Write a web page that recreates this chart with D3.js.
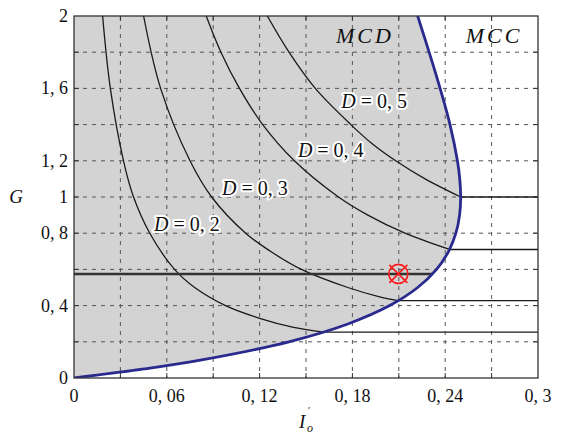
<!DOCTYPE html>
<html>
<head>
<meta charset="utf-8">
<script src="https://cdn.jsdelivr.net/npm/d3@7"></script>
<style>
  body { margin: 0; background: #fff; }
  svg { display: block; }
  svg text { font-family: "Liberation Serif", "DejaVu Serif", "Times New Roman", serif; }
  .grid line { stroke: #555; stroke-width: 1; stroke-dasharray: 4,5; }
  .tick-lbl { font-size: 18px; fill: #111; }
  .dlbl { font-size: 20px; fill: #111; stroke: #fff; stroke-width: 4px; paint-order: stroke; stroke-linejoin: round; }
</style>
</head>
<body>
<svg id="chart" width="565" height="434"></svg>
<script>
// ── Data (I'_o, G) ──────────────────────────────────────────────────────────
const xTicks = [0, 0.06, 0.12, 0.18, 0.24, 0.3];
const xTickLabels = ["0", "0, 06", "0, 12", "0, 18", "0, 24", "0, 3"];
const yTicks = [0, 0.4, 0.8, 1, 1.2, 1.6, 2];
const yTickLabels = ["0", "0, 4", "0, 8", "1", "1, 2", "1, 6", "2"];
const xGrid = [0.03, 0.06, 0.09, 0.12, 0.15, 0.18, 0.21, 0.24, 0.27];
const yGrid = [0.2, 0.4, 0.6, 0.8, 1.0, 1.2, 1.4, 1.6, 1.8];

// MCD / MCC boundary
const boundary = [
  [0, 0], [0.0454, 0.05], [0.0826, 0.1], [0.1389, 0.2], [0.1775, 0.3],
  [0.2041, 0.4], [0.2222, 0.5], [0.2344, 0.6], [0.2422, 0.7], [0.2469, 0.8],
  [0.2493, 0.9], [0.25, 1.0], [0.2494, 1.1], [0.2479, 1.2], [0.2431, 1.4],
  [0.2367, 1.6], [0.2296, 1.8], [0.2222, 2.0]
];

// MCD curves for each duty cycle
const dcmD02 = [[0.0185, 2], [0.0235, 1.6], [0.032, 1.2], [0.0385, 1.0], [0.049, 0.8],
  [0.065, 0.6], [0.078, 0.5], [0.098, 0.4], [0.12, 0.33], [0.142, 0.28], [0.1615, 0.254]];
const dcmD03 = [[0.045, 2], [0.056, 1.6], [0.075, 1.2], [0.089, 1.0], [0.111, 0.8],
  [0.127, 0.7], [0.147, 0.6], [0.177, 0.5], [0.197, 0.45], [0.2097, 0.427]];
const dcmD04 = [[0.0855, 2], [0.095, 1.8], [0.107, 1.6], [0.122, 1.4], [0.1425, 1.2],
  [0.171, 1.0], [0.19, 0.9], [0.214, 0.8], [0.2428, 0.71]];
const dcmD05 = [[0.125, 2], [0.139, 1.8], [0.156, 1.6], [0.179, 1.4], [0.192, 1.3],
  [0.208, 1.2], [0.227, 1.1], [0.25, 1.0]];
const dcmCurves = [dcmD02, dcmD03, dcmD04, dcmD05];

// MCC: G constant from the boundary to the right edge
const ccmG = [0.254, 0.427, 0.71, 1.0];
const ccmStart = [0.1615, 0.2097, 0.2428, 0.25];

// operating line and point
const opLine = [[0, 0.575], [0.2318, 0.575]];
const opPoint = [0.2097, 0.575];

const dLabels = ["0, 2", "0, 3", "0, 4", "0, 5"];
const dLabelPos = [[0.073, 0.81], [0.117, 1.01], [0.166, 1.22], [0.194, 1.49]];

// ── Setup ────────────────────────────────────────────────────────────────────
const svg = d3.select('#chart');
const L = 74, R = 538, T = 16, B = 378;
const x = d3.scaleLinear().domain([0, 0.3]).range([L, R]);
const y = d3.scaleLinear().domain([0, 2]).range([B, T]);

svg.append('defs').append('clipPath').attr('id', 'plot-clip')
  .append('rect').attr('x', L).attr('y', T).attr('width', R - L).attr('height', B - T);

const line = d3.line().x(d => x(d[0])).y(d => y(d[1])).curve(d3.curveCatmullRom);
const plot = svg.append('g').attr('clip-path', 'url(#plot-clip)');

// grey MCD region
plot.append('path')
  .attr('d', line(boundary) + `L${x(0)},${y(2)}Z`)
  .attr('fill', '#d3d3d3');

// grid
const grid = plot.append('g').attr('class', 'grid');
grid.selectAll('.gx').data(xGrid).enter().append('line')
  .attr('x1', d => x(d)).attr('x2', d => x(d)).attr('y1', T).attr('y2', B);
grid.selectAll('.gy').data(yGrid).enter().append('line')
  .attr('y1', d => y(d)).attr('y2', d => y(d)).attr('x1', L).attr('x2', R);

// MCD curves
plot.selectAll('.dcm').data(dcmCurves).enter().append('path')
  .attr('d', line).attr('fill', 'none')
  .attr('stroke', '#1a1a1a').attr('stroke-width', 1.3);

// MCC lines
plot.selectAll('.ccm').data(ccmG).enter().append('line')
  .attr('x1', (d, i) => x(ccmStart[i])).attr('x2', x(0.3))
  .attr('y1', d => y(d)).attr('y2', d => y(d))
  .attr('stroke', '#1a1a1a').attr('stroke-width', 1.3);

// operating line
plot.append('path').attr('d', d3.line().x(d => x(d[0])).y(d => y(d[1]))(opLine))
  .attr('stroke', '#333').attr('stroke-width', 2.6).attr('fill', 'none');

// boundary
plot.append('path').attr('d', line(boundary)).attr('fill', 'none')
  .attr('stroke', '#2a2a8e').attr('stroke-width', 2.8);

// operating point marker
const mk = svg.append('g')
  .attr('transform', `translate(${x(opPoint[0])},${y(opPoint[1])})`)
  .attr('stroke', '#ff1a1a').attr('stroke-width', 1.6).attr('fill', 'none');
mk.append('circle').attr('r', 9.5);
mk.append('path').attr('d', 'M-9,-9L9,9M-9,9L9,-9');

// D labels
svg.selectAll('.dlbl').data(dLabels).enter().append('text')
  .attr('class', 'dlbl')
  .attr('x', (d, i) => x(dLabelPos[i][0])).attr('y', (d, i) => y(dLabelPos[i][1]))
  .attr('text-anchor', 'middle')
  .each(function(d) {
    const t = d3.select(this);
    t.append('tspan').attr('font-style', 'italic').text('D');
    t.append('tspan').text(' = ' + d);
  });

// region labels
svg.append('text').attr('x', 365).attr('y', 43).attr('text-anchor', 'middle')
  .attr('font-size', 22).attr('font-style', 'italic').attr('letter-spacing', 3).attr('fill', '#111')
  .text('MCD');
svg.append('text').attr('x', 494).attr('y', 43).attr('text-anchor', 'middle')
  .attr('font-size', 22).attr('font-style', 'italic').attr('letter-spacing', 3).attr('fill', '#111')
  .text('MCC');

// frame and inner ticks
svg.append('rect').attr('x', L).attr('y', T).attr('width', R - L).attr('height', B - T)
  .attr('fill', 'none').attr('stroke', '#333').attr('stroke-width', 1.3);

const ticks = svg.append('g').attr('stroke', '#333').attr('stroke-width', 1);
xGrid.forEach(v => {
  ticks.append('line').attr('x1', x(v)).attr('x2', x(v)).attr('y1', B).attr('y2', B - 5);
  ticks.append('line').attr('x1', x(v)).attr('x2', x(v)).attr('y1', T).attr('y2', T + 5);
});
yGrid.forEach(v => {
  ticks.append('line').attr('y1', y(v)).attr('y2', y(v)).attr('x1', L).attr('x2', L + 5);
  ticks.append('line').attr('y1', y(v)).attr('y2', y(v)).attr('x1', R).attr('x2', R - 5);
});

// tick labels
svg.selectAll('.xl').data(xTicks).enter().append('text')
  .attr('class', 'tick-lbl').attr('text-anchor', 'middle')
  .attr('x', d => x(d)).attr('y', 402)
  .text((d, i) => xTickLabels[i]);
svg.selectAll('.yl').data(yTicks).enter().append('text')
  .attr('class', 'tick-lbl').attr('text-anchor', 'end')
  .attr('x', 68).attr('y', d => y(d) + 6)
  .text((d, i) => yTickLabels[i]);

// axis titles
svg.append('text').attr('x', 16).attr('y', 203).attr('text-anchor', 'middle')
  .attr('font-size', 19).attr('font-style', 'italic').attr('fill', '#111').text('G');
svg.append('text').attr('x', 299).attr('y', 428)
  .attr('font-size', 19).attr('font-style', 'italic').attr('fill', '#111').text('I');
svg.append('text').attr('x', 308).attr('y', 414)
  .attr('font-size', 10).attr('fill', '#111').text('\u2032');
svg.append('text').attr('x', 307).attr('y', 432)
  .attr('font-size', 12).attr('font-style', 'italic').attr('fill', '#111').text('o');
</script>
</body>
</html>
